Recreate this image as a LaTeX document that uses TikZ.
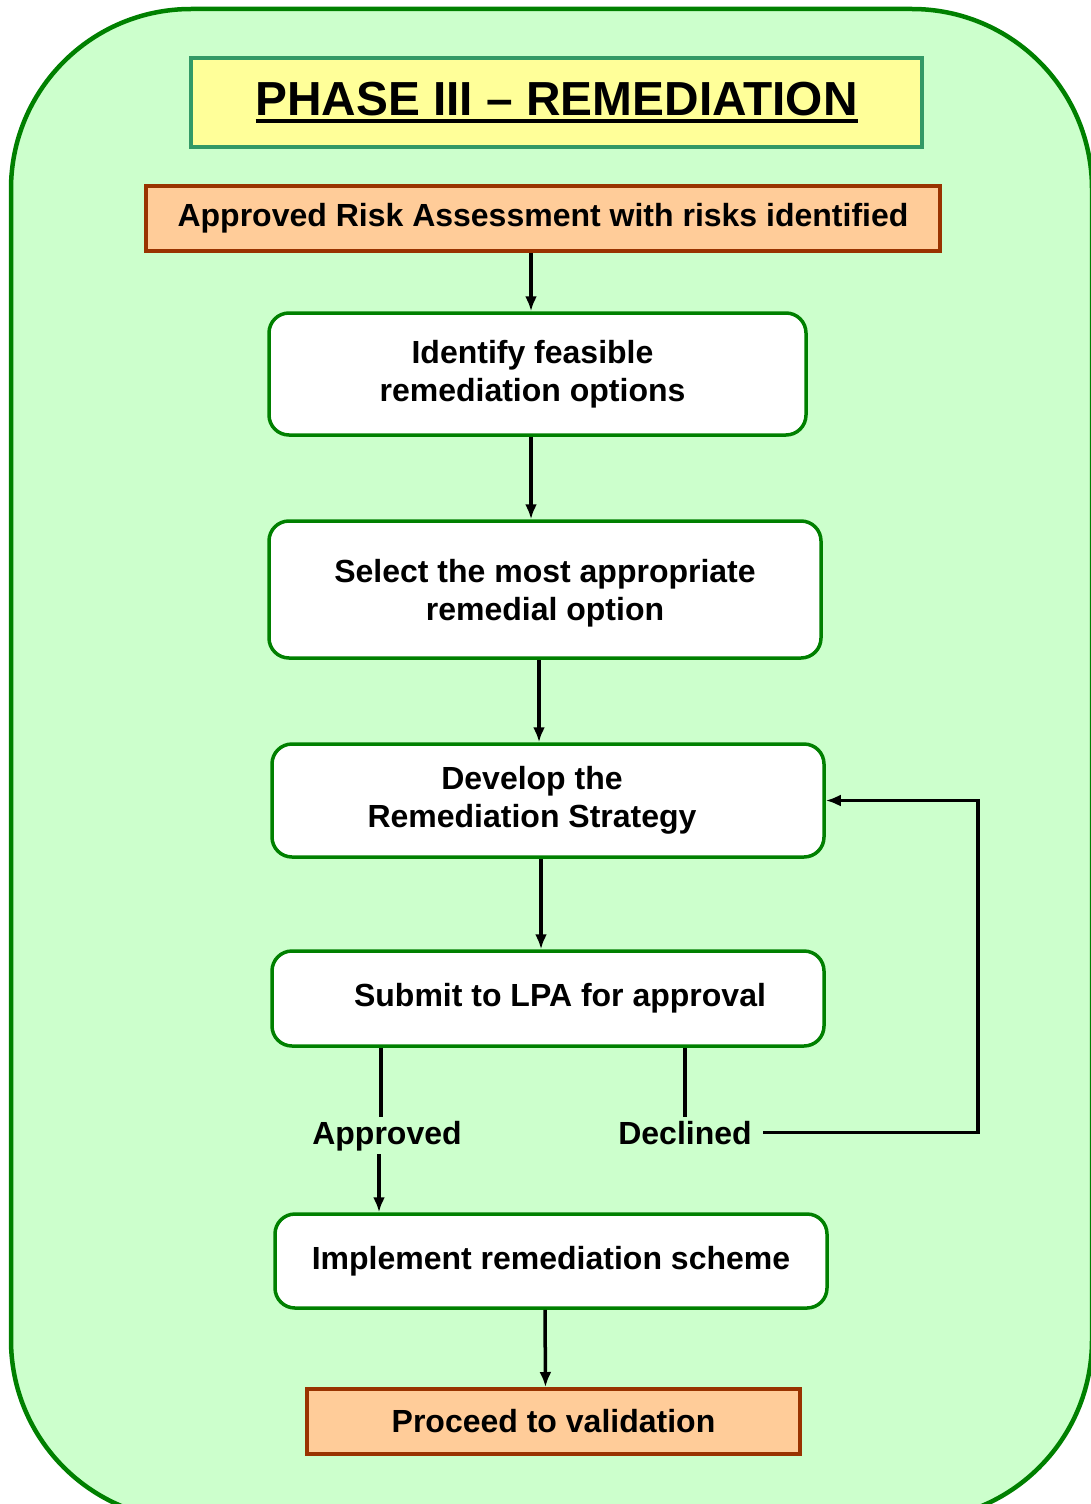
\documentclass[tikz,border=0pt]{standalone}
\usepackage{fontspec}
\setmainfont{Liberation Sans}
\usetikzlibrary{arrows,arrows.meta}

\definecolor{panelfill}{HTML}{CCFFCC}
\definecolor{panelline}{HTML}{008000}
\definecolor{titlefill}{HTML}{FFFF99}
\definecolor{titleline}{HTML}{339966}
\definecolor{endfill}{HTML}{FFCC99}
\definecolor{endline}{HTML}{993300}

\newcommand{\heavyul}[1]{\setbox0\hbox{#1}\rlap{\rule[-8pt]{\wd0}{4.5pt}}\box0}

\begin{document}
\begin{tikzpicture}[x=1pt, y=-1pt,
    txt/.style={font=\fontsize{32}{38}\selectfont\bfseries, align=center},
    stepbox/.style={txt, draw=panelline, line width=3.5pt, fill=white, rounded corners=20pt, inner sep=0pt},
    endbox/.style={txt, draw=endline, line width=4pt, fill=endfill, inner sep=0pt},
    wire/.style={line width=3.5pt},
    arr/.style={wire, -{Latex[length=15pt,width=12pt]}}]
\useasboundingbox (0,0) rectangle (1091,1504);
% background panel
\draw[panelline, line width=4.5pt, fill=panelfill, rounded corners=180pt] (11,9) rectangle (1092,1520);

\node[draw=titleline, line width=4pt, fill=titlefill, minimum width=731pt, minimum height=89pt,
      font=\fontsize{47.8}{56}\selectfont\bfseries] (title) at (556.5,102.5) {\heavyul{PHASE III – REMEDIATION}};

\node[endbox, minimum width=794pt, minimum height=65pt] (risk) at (543,218.5) {Approved Risk Assessment with risks identified};
\node[stepbox, minimum width=537pt, minimum height=122pt] (ident) at (537.5,374) {Identify feasible\hspace*{10pt}\\remediation options\hspace*{10pt}};
\node[stepbox, minimum width=552pt, minimum height=137pt, text depth=-21pt] (select) at (545,589.5) {Select the most appropriate\\remedial option};
\node[stepbox, minimum width=552pt, minimum height=113pt] (develop) at (548,800.5) {Develop the\hspace*{32pt}\\Remediation Strategy\hspace*{32pt}};
\node[stepbox, minimum width=552pt, minimum height=95pt] (submit) at (548,998.5) {\hspace*{24pt}Submit to LPA for approval};
\node[txt, anchor=base] (approved) at (387,1144) {Approved};
\node[txt, anchor=base] (declined) at (685,1144) {Declined};
\node[stepbox, minimum width=552pt, minimum height=94pt] (implement) at (551,1261) {Implement remediation scheme};
\node[endbox, minimum width=493pt, minimum height=65pt] (proceed) at (553.5,1421.5) {Proceed to validation};
\coordinate (loop) at (declined.east -| 978,0);

% flow
\draw[arr] ([xshift=-12pt]risk.south) -- ([xshift=-6.5pt]ident.north);
\draw[arr] ([xshift=-6.5pt]ident.south) -- ([xshift=-14pt]select.north);
\draw[arr] ([xshift=-6pt]select.south) -- ([xshift=-9pt]develop.north);
\draw[arr] ([xshift=-7pt]develop.south) -- ([xshift=-7pt]submit.north);
\draw[wire] (submit.south -| 381,0) -- ([xshift=-6pt]approved.north);
\draw[arr] ([xshift=-8pt]approved.south) -- (implement.north -| 379,0);
\draw[wire] (submit.south -| declined.north) -- (declined.north);
\draw[arr] ([xshift=8pt]declined.east) -- (loop) |- (develop.east);
\draw[arr] ([xshift=-6pt]implement.south) -- ([xshift=-8pt]proceed.north);
\end{tikzpicture}
\end{document}
